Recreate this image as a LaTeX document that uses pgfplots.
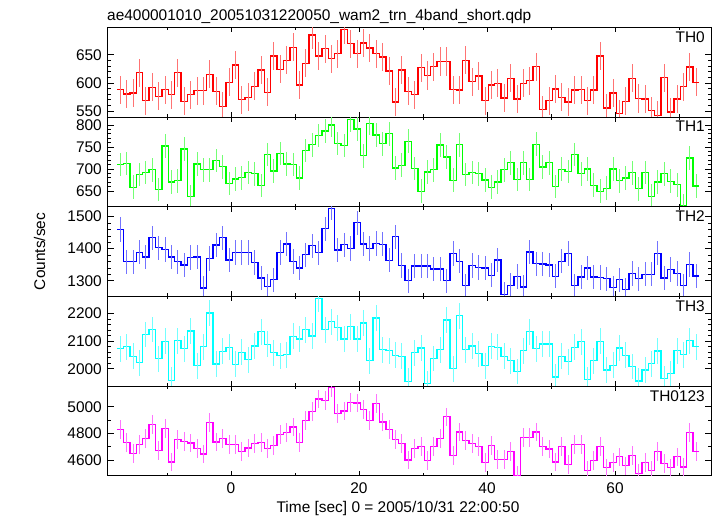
\documentclass[border=0pt]{standalone}
\usepackage{pgfplots}
\pgfplotsset{compat=1.18}
\usepackage{pgfplotstable}
\usepackage{fontspec}
\setmainfont{Liberation Sans}
\definecolor{cR}{RGB}{255,0,0}
\definecolor{cG}{RGB}{0,255,0}
\definecolor{cB}{RGB}{0,0,255}
\definecolor{cC}{RGB}{0,255,255}
\definecolor{cM}{RGB}{255,0,255}

\pgfplotstableread{
t a b c d e
-17.3 588 710 1460 2072 4830
-16.3 580 712 1359 2080 4729
-15.3 582 658 1359 2045 4648
-14.3 618 687 1389 2022 4714
-13.3 568 692 1374 2124 4760
-12.3 592 698 1434 2142 4866
-11.3 576 653 1403 2036 4669
-10.3 588 752 1397 2099 4836
-9.3 579 670 1374 1958 4585
-8.3 618 673 1359 2101 4752
-7.3 567 745 1349 2072 4737
-6.3 579 637 1372 2137 4727
-5.3 586 711 1374 2011 4684
-4.3 586 698 1277 2080 4643
-3.3 615 698 1369 2202 4881
-2.3 585 719 1411 2017 4734
-1.3 558 705 1434 2063 4760
-0.3 601 667 1365 2077 4714
0.7 632 677 1388 2016 4714
1.7 570 680 1388 2059 4664
2.7 574 692 1388 2033 4689
3.7 594 689 1357 2082 4722
4.7 623 662 1308 2134 4729
5.7 583 733 1283 2088 4686
6.7 648 695 1303 2058 4707
7.7 624 735 1388 2047 4793
8.7 640 711 1415 2051 4805
9.7 663 710 1360 2117 4848
10.7 596 679 1340 2108 4729
11.7 635 742 1381 2141 4896
12.7 685 755 1409 2119 4965
13.7 648 776 1387 2254 5058
14.7 661 786 1462 2141 5046
15.7 643 800 1526 2170 5142
16.7 652 758 1396 2149 4949
17.7 695 753 1412 2108 4967
18.7 670 812 1401 2152 5033
19.7 652 791 1481 2108 5028
20.7 671 730 1415 2166 4980
21.7 662 803 1400 2029 4896
22.7 652 777 1416 2184 5025
23.7 646 757 1414 2069 4884
24.7 621 780 1364 2065 4828
25.7 566 702 1437 2048 4755
26.7 623 708 1347 2045 4722
27.7 585 763 1300 1954 4600
28.7 579 701 1346 2058 4684
29.7 627 649 1346 2075 4699
30.7 613 693 1346 1946 4593
31.7 629 698 1337 2037 4699
32.7 638 754 1337 2069 4760
33.7 638 727 1300 2177 4924
34.7 588 674 1385 2000 4631
35.7 587 755 1361 2192 4810
36.7 640 687 1284 2069 4744
37.7 602 692 1347 2082 4722
38.7 612 689 1341 2055 4699
39.7 568 675 1340 2011 4580
40.7 596 658 1317 2081 4707
41.7 599 670 1365 2077 4603
42.7 573 698 1257 2045 4603
43.7 608 714 1286 2029 4664
44.7 571 676 1313 1990 4484
45.7 599 714 1280 2065 4767
46.7 604 676 1390 2134 4767
47.7 629 756 1353 2072 4810
48.7 552 704 1352 2090 4699
49.7 568 714 1349 2090 4681
50.7 589 660 1314 1970 4585
51.7 574 699 1361 2045 4699
52.7 566 694 1385 2026 4567
53.7 587 733 1284 2077 4717
54.7 588 689 1312 2098 4717
55.7 568 700 1340 1960 4519
56.7 587 663 1312 2029 4593
57.7 648 649 1310 2099 4701
58.7 555 656 1306 1995 4540
59.7 582 700 1278 2012 4580
60.7 545 673 1303 2075 4623
61.7 567 679 1272 2049 4555
62.7 608 691 1322 2008 4631
63.7 572 655 1306 1955 4497
64.7 571 692 1320 1995 4580
65.7 550 638 1320 2018 4522
66.7 542 670 1386 2064 4664
67.7 609 689 1308 1964 4572
68.7 548 672 1335 1982 4540
69.7 571 664 1323 2065 4623
70.7 593 617 1284 2051 4547
71.7 628 725 1351 2101 4805
72.7 601 661 1315 2080 4661
}\data

\pgfplotsset{
  panel/.style={
    scale only axis, width=604bp, height=89.7bp,
    anchor=north west,
    xmin=-19.375, xmax=75,
    axis line style={line width=1bp},
    tick align=inside,
    xtick={0,20,40,60}, minor xtick={-10,10,30,50,70},
    xticklabels={},
    xtick style={black, line width=0.6bp, /pgfplots/major tick length=5bp, /pgfplots/minor tick length=3bp},
    ytick style={black, line width=0.6bp, /pgfplots/major tick length=6.5bp, /pgfplots/minor tick length=3.5bp},
    minor y tick num=4,
    /pgf/number format/assume math mode=true,
    /pgf/number format/1000 sep={},
    scaled y ticks=false,
    ticklabel style={font=\fontsize{15.5}{16}\selectfont},
    yticklabel style={inner sep=0pt, xshift=-5bp},
    xticklabel style={inner sep=0pt, yshift=-7bp},
    clip=true,
  },
  stp/.style 2 args={color=#1, const plot mark mid, draw=#1, line width=1.3bp, mark=none,
     error bars/.cd, y dir=both, y fixed=#2, error mark=none,
     error bar style={draw=#1!55!white, line width=1.1bp}},
  edge/.style={color=#1, draw=#1, line width=1.3bp, mark=none},
}
\newcommand{\plab}[1]{\node[anchor=north east, inner sep=0pt, font=\fontsize{15.5}{16}\selectfont] at (rel axis cs:1,1) [xshift=-6bp, yshift=-4bp] {#1};}

\begin{document}
\begin{tikzpicture}
\useasboundingbox (0,0) rectangle (717bp,-516bp);

\begin{axis}[panel, at={(107bp,-27.3bp)}, ymin=539, ymax=699, ytick={550,600,650}]
\addplot[stp={cR}{25}] table[x=t,y=a]{\data};
\addplot[edge=cR] coordinates {(-17.8,588) (-17.3,588)};
\addplot[edge=cR] coordinates {(72.7,601) (73.2,601)};
\plab{TH0}
\end{axis}

\begin{axis}[panel, at={(107bp,-117bp)}, ymin=614, ymax=818, ytick={650,700,750,800}]
\addplot[stp={cG}{27}] table[x=t,y=b]{\data};
\addplot[edge=cG] coordinates {(-17.8,710) (-17.3,710)};
\addplot[edge=cG] coordinates {(72.7,661) (73.2,661)};
\plab{TH1}
\end{axis}

\begin{axis}[panel, at={(107bp,-206.7bp)}, ymin=1251, ymax=1531, ytick={1300,1400,1500}]
\addplot[stp={cB}{38}] table[x=t,y=c]{\data};
\addplot[edge=cB] coordinates {(-17.8,1460) (-17.3,1460)};
\addplot[edge=cB] coordinates {(72.7,1315) (73.2,1315)};
\plab{TH2}
\end{axis}

\begin{axis}[panel, at={(107bp,-296.4bp)}, ymin=1937, ymax=2262, ytick={2000,2100,2200}]
\addplot[stp={cC}{47}] table[x=t,y=d]{\data};
\addplot[edge=cC] coordinates {(-17.8,2072) (-17.3,2072)};
\addplot[edge=cC] coordinates {(72.7,2080) (73.2,2080)};
\plab{TH3}
\end{axis}

\begin{axis}[panel, at={(107bp,-386.1bp)}, ymin=4480, ymax=5155, ytick={4600,4800,5000}, minor y tick num=1,
  xticklabels={0,20,40,60}]
\addplot[stp={cM}{70}] table[x=t,y=e]{\data};
\addplot[edge=cM] coordinates {(-17.8,4830) (-17.3,4830)};
\addplot[edge=cM] coordinates {(72.7,4661) (73.2,4661)};
\plab{TH0123}
\end{axis}

\node[anchor=base west, inner sep=0pt, font=\fontsize{15.5}{16}\selectfont] at (107bp,-20bp) {ae400001010\_20051031220050\_wam2\_trn\_4band\_short.qdp};
\node[anchor=base, inner sep=0pt, font=\fontsize{15.5}{16}\selectfont] at (398bp,-512bp) {Time [sec] 0 = 2005/10/31 22:00:50};
\node[rotate=90, anchor=base, inner sep=0pt, font=\fontsize{15.5}{16}\selectfont] at (45bp,-251.5bp) {Counts/sec};
\end{tikzpicture}
\end{document}
